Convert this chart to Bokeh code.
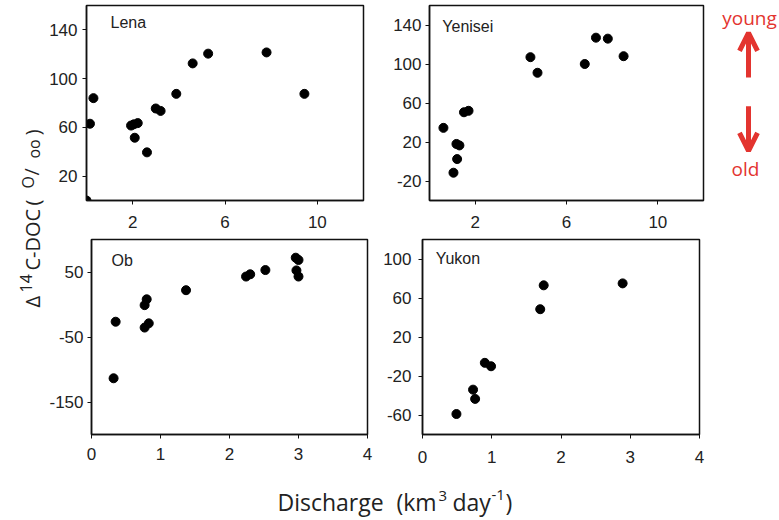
from bokeh.plotting import figure
from bokeh.models import Range1d, FixedTicker, Label, Arrow, OpenHead, ColumnDataSource
from bokeh.layouts import row, column
from bokeh.embed import file_html
from bokeh.resources import INLINE
from bokeh.core.properties import value
import math

# ---------------- data (discharge km3/day, Delta14C-DOC per mil) ----------------
lena_q = [0.0, 0.15, 0.3, 1.93, 2.05, 2.22, 2.09, 2.62, 3.0, 3.21, 3.89, 4.6, 5.27, 7.8, 9.44]
lena_d = [0, 63, 84, 61.5, 62.5, 63.5, 51.5, 39.5, 75.5, 73.5, 87.5, 112.5, 120.5, 121.5, 87.5]

yenisei_q = [0.61, 1.18, 1.31, 1.21, 1.05, 1.51, 1.71, 4.42, 4.73, 6.8, 7.29, 7.81, 8.5]
yenisei_d = [34.5, 18, 16.5, 2.5, -11.5, 50.5, 52, 107, 91, 100, 127, 126, 108]

ob_q = [0.32, 0.35, 0.77, 0.80, 0.77, 0.83, 1.37, 2.24, 2.30, 2.52, 2.96, 3.0, 2.97, 3.0]
ob_d = [-113.5, -26.5, -1, 8, -35.5, -29, 22, 43, 46.5, 53, 72, 68.5, 52.5, 43]

yukon_q = [0.49, 0.73, 0.76, 0.90, 0.99, 1.70, 1.75, 2.89]
yukon_d = [-59, -34, -43.5, -6.5, -10, 48.5, 73, 75]

lena_xticks = [2, 6, 10]
lena_yticks = [20, 60, 100, 140]
yenisei_xticks = [2, 6, 10]
yenisei_yticks = [-20, 20, 60, 100, 140]
ob_xticks = [0, 1, 2, 3, 4]
ob_yticks = [-150, -50, 50]
yukon_xticks = [0, 1, 2, 3, 4]
yukon_yticks = [-60, -20, 20, 60, 100]

TICK_FONT = "Liberation Sans"
TITLE_FONT = "Open Sans"
INK = "#111111"
RED = "#e3342f"


def panel(name, q, d, xr, yr, xticks, yticks, lab, w, h, bl, br, bt, bb, xs, ys):
    p = figure(width=w, height=h, x_range=Range1d(*xr), y_range=Range1d(*yr),
               toolbar_location=None, tools="", output_backend="svg",
               min_border_left=bl, min_border_right=br,
               min_border_top=bt, min_border_bottom=bb)
    p.scatter(q, d, size=9, color="black")
    p.xaxis.ticker = FixedTicker(ticks=xticks)
    p.yaxis.ticker = FixedTicker(ticks=yticks)
    p.xaxis.major_label_overrides = {t: str(t) for t in xticks}
    p.yaxis.major_label_overrides = {t: str(t) for t in yticks}
    for ax in (p.xaxis, p.yaxis):
        ax.major_tick_out = 4
        ax.major_tick_in = 0
        ax.minor_tick_out = 0
        ax.minor_tick_in = 0
        ax.major_tick_line_color = INK
        ax.axis_line_color = INK
        ax.axis_line_width = 1.5
        ax.major_label_text_font = TICK_FONT
        ax.major_label_text_font_size = "17px"
        ax.major_label_text_color = "#222222"
    p.xaxis.major_label_standoff = xs
    p.yaxis.major_label_standoff = ys
    p.grid.visible = False
    p.outline_line_color = INK
    p.outline_line_width = 1.5
    p.outline_line_alpha = 1.0
    p.add_layout(Label(x=lab[0], y=lab[1], text=name, text_font=TICK_FONT,
                       text_font_size="16px", text_color="#222222",
                       text_baseline="middle"))
    return p


lena = panel("Lena", lena_q, lena_d, (0, 12), (0, 160), lena_xticks, lena_yticks,
             (1.04, 146), 344, 236, 40, 27, 5, 36, 11, 5)
yen = panel("Yenisei", yenisei_q, yenisei_d, (0, 12), (-40, 160), yenisei_xticks, yenisei_yticks,
            (0.56, 138), 320, 236, 36, 7, 5, 36, 11, 4)
ob = panel("Ob", ob_q, ob_d, (0, 4), (-200, 100), ob_xticks, ob_yticks,
           (0.29, 67), 334, 236, 42, 13, 3, 34, 9, 4)
yuk = panel("Yukon", yukon_q, yukon_d, (0, 4), (-80, 120), yukon_xticks, yukon_yticks,
            (0.19, 101), 399, 236, 41, 80, 2, 38, 12, 7)


def blank(w, h, xr, yr):
    p = figure(width=w, height=h, x_range=Range1d(*xr), y_range=Range1d(*yr),
               toolbar_location=None, tools="", output_backend="svg",
               x_axis_location=None, y_axis_location=None, min_border=0)
    p.grid.visible = False
    p.outline_line_color = None
    return p


# y-axis title (page coordinates): rotated pieces
ylab = blank(46, 518, (0, 46), (518, 0))
for txt, cx, sy, fs in [("\u0394", 32, 307, 20), ("14", 25.5, 292, 16), ("C-DOC", 32, 270, 20),
                        ("(", 32, 205, 20), ("O", 27, 188, 16), ("/", 31, 175, 20),
                        ("oo", 33, 158, 16), ("\u2009)", 32, 138, 20)]:
    ylab.add_layout(Label(x=cx, y=sy, text=txt, angle=math.pi / 2, text_align="left",
                          text_baseline="middle", text_font=TITLE_FONT,
                          text_font_size=f"{fs}px", text_color="#222222"))

# x-axis title (page coordinates)
xlab = blank(733, 46, (46, 779), (518, 472))
xsrc = ColumnDataSource(dict(
    text=["Discharge", "(km", "3", "day", "-1", ")"],
    x=[277, 396, 438, 452, 491, 505],
    y=[501, 501, 495.5, 501, 494, 501],
    size=["23px", "23px", "15px", "23px", "15px", "23px"],
))
xlab.text(x="x", y="y", text="text", source=xsrc, text_align="left", text_baseline="middle",
          text_font=value(TITLE_FONT), text_font_size="size", text_color="#222222")

# young / old arrows (page coordinates)
arr = blank(69, 236, (710, 779), (236, 0))
arr.text(x=[749], y=[15], text=["young"], text_align="center", text_baseline="middle",
         text_font=value(TITLE_FONT), text_font_size="19px", text_color=RED)
arr.text(x=[745], y=[197.5], text=["old"], text_align="center", text_baseline="middle",
         text_font=value(TITLE_FONT), text_font_size="19px", text_color=RED)
arr.add_layout(Arrow(x_start=748, y_start=87, x_end=748, y_end=33,
                     line_color=RED, line_width=5,
                     end=OpenHead(size=18, line_color=RED, line_width=5)))
arr.add_layout(Arrow(x_start=748, y_start=122, x_end=748, y_end=176,
                     line_color=RED, line_width=5,
                     end=OpenHead(size=18, line_color=RED, line_width=5)))

layout = row(ylab, column(row(lena, yen, arr), row(ob, yuk), xlab))

open("out.html", "w").write(file_html(layout, INLINE))
